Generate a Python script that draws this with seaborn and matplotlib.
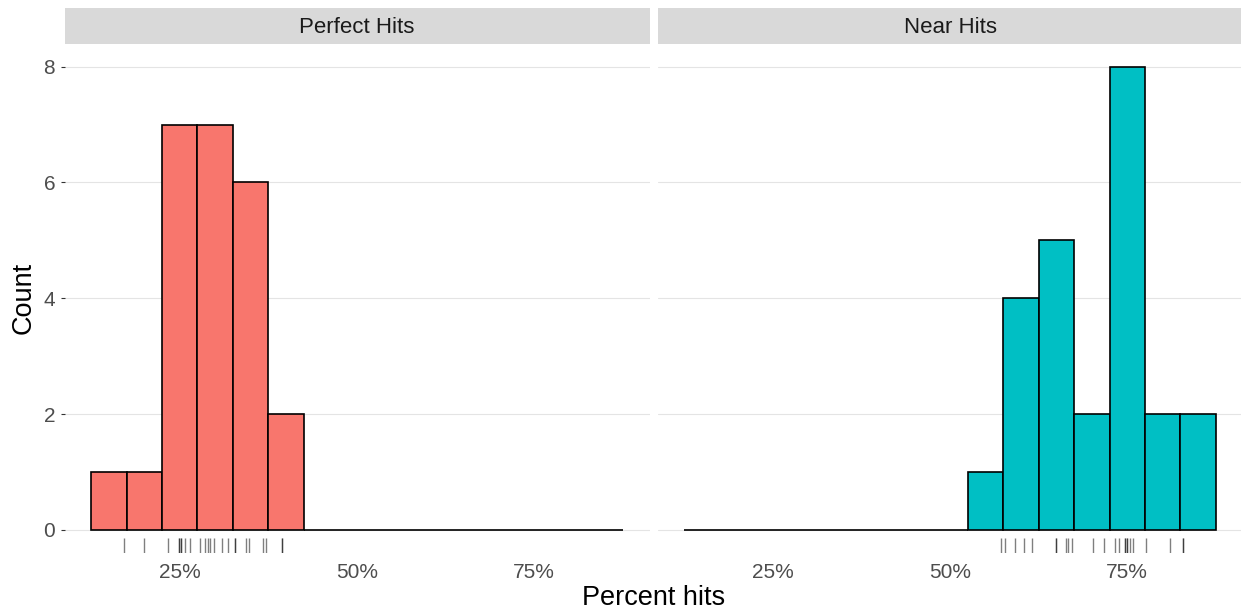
import matplotlib
matplotlib.use("Agg")
import matplotlib.pyplot as plt
from matplotlib.patches import Rectangle
from matplotlib.ticker import FuncFormatter
import seaborn as sns
import pandas as pd

# ---- data (percent hits per subject) ----
panel_names = ["Perfect Hits", "Near Hits"]
panel_colors = ["#F8766D", "#00BFC4"]
perfect_hits = [17.1, 19.9, 23.4, 24.9, 24.9, 25.2, 25.2, 25.8, 26.5,
                27.9, 28.6, 29.0, 29.3, 29.9, 31.0, 31.8,
                32.8, 32.8, 34.3, 34.7, 36.8, 37.2, 39.4, 39.4]
near_hits = [57.2, 57.7, 59.1, 60.5, 61.5, 64.9, 64.9, 66.3, 66.7, 67.2,
             70.2, 71.7, 73.3, 73.8, 74.7, 74.7, 74.9, 74.9, 75.4, 75.8,
             77.7, 81.0, 82.8, 82.8]
x_ticks = [25, 50, 75]
y_ticks = [0, 2, 4, 6, 8]

df = pd.DataFrame({
    "type": [panel_names[0]] * len(perfect_hits) + [panel_names[1]] * len(near_hits),
    "pct": perfect_hits + near_hits,
})

sns.set_theme(style="white")
plt.rcParams["font.family"] = ["Liberation Sans", "DejaVu Sans"]

W, H = 1241, 611
fig = plt.figure(figsize=(W / 100, H / 100), dpi=100)

left_px, gap_px, pw = 64.5, 8.0, 585.0
top_px, bottom_px = 43.5, 553
ph = bottom_px - top_px
strip_px = 35.5

axes = []
for i in range(2):
    x0 = left_px + i * (pw + gap_px)
    ax = fig.add_axes([x0 / W, 1 - bottom_px / H, pw / W, ph / H])
    axes.append(ax)

for i, (ax, name, col) in enumerate(zip(axes, panel_names, panel_colors)):
    sub = df[df["type"] == name]
    ax.set_axisbelow(True)
    ax.yaxis.grid(True, color="#E4E4E4", linewidth=0.8)
    ax.xaxis.grid(False)
    sns.histplot(data=sub, x="pct", binwidth=5, binrange=(12.5, 87.5),
                 color=col, edgecolor="black", linewidth=1.2, alpha=1,
                 ax=ax, zorder=2)
    sns.rugplot(data=sub, x="pct", height=0.03, color="black", alpha=0.5,
                linewidth=1.0, ax=ax, zorder=3)
    ax.set_xlim(8.75, 91.25)
    ax.set_ylim(-0.4, 8.4)
    ax.set_xticks(x_ticks)
    ax.xaxis.set_major_formatter(FuncFormatter(lambda v, p: f"{v:.0f}%"))
    ax.set_yticks(y_ticks)
    for s in ax.spines.values():
        s.set_visible(False)
    ax.set_xlabel("")
    ax.set_ylabel("")
    ax.tick_params(axis="x", length=0, pad=7, labelsize=15, labelcolor="#4D4D4D")
    if i == 0:
        ax.tick_params(axis="y", left=True, length=3.2, width=0.8, color="#333333",
                       pad=3.5, labelsize=15, labelcolor="#4D4D4D")
    else:
        ax.tick_params(axis="y", left=False, labelleft=False)
    # strip
    sh = strip_px / ph
    ax.add_patch(Rectangle((0, 1), 1, sh, transform=ax.transAxes,
                           facecolor="#D9D9D9", edgecolor="none", clip_on=False))
    ax.text(0.5, 1 + (top_px - 33.3) / ph, name, transform=ax.transAxes,
            ha="center", va="baseline", fontsize=16, color="#1A1A1A")

center_x = left_px + pw + gap_px / 2
fig.text(center_x / W, 1 - 605 / H, "Percent hits",
         ha="center", va="baseline", fontsize=19.5, color="black")
fig.text(23.5 / W, 1 - (top_px + bottom_px) / 2 / H, "Count", rotation=90,
         ha="center", va="center", fontsize=19.5, color="black")

fig.savefig("out.png", dpi=100, facecolor="white")
